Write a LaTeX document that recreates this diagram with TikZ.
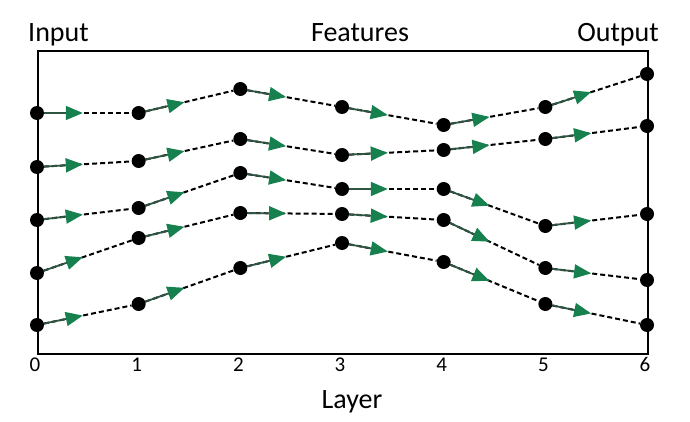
\documentclass[tikz,border=0pt]{standalone}
\usepackage{fontspec}
\setmainfont{Carlito}
\usetikzlibrary{arrows.meta,backgrounds}
\definecolor{flowgreen}{RGB}{22,128,78}
\definecolor{flowline}{RGB}{45,85,65}
\tikzset{
  dot/.style={circle,fill=black,inner sep=0pt,minimum size=14pt},
  dashline/.style={black,line width=2pt,dash pattern=on 5pt off 3pt},
  flow/.style={flowline,line width=1.8pt,-{Triangle[length=17pt,width=14pt,fill=flowgreen,color=flowgreen]}},
  frame/.style={black,line width=2.2pt},
  lbl/.style={inner sep=0pt,font=\fontsize{28}{32}\selectfont},
  num/.style={inner sep=0pt,font=\fontsize{21}{24}\selectfont}
}
\begin{document}
\begin{tikzpicture}[x=1pt,y=-1pt]
\useasboundingbox (0,0) rectangle (690,422);
\node[frame,draw,minimum width=610pt,minimum height=303pt,anchor=north west,inner sep=0pt] (box) at (37,50) {};
\foreach \ys [count=\r] in {
  {113,113,89,107,125,107,74},
  {167,161,139,155,150,139,126},
  {220,208,173,189,189,226,214},
  {273,238,213,214,220,268,280},
  {325,304,268,243,262,304,325}} {
  \foreach \y [count=\c from 0] in \ys {
    \node[dot] (n\r-\c) at ({37+\c*101.67},\y) {};
  }
}
\begin{pgfonlayer}{background}
\foreach \r in {1,...,5} {
  \foreach \c [evaluate=\c as \d using int(\c+1)] in {0,...,5} {
    \draw[dashline] (n\r-\c) -- (n\r-\d);
    \path (n\r-\c.center) -- coordinate[pos=0.45] (t\r-\c) (n\r-\d.center);
    \draw[flow] (n\r-\c.center) -- (t\r-\c);
  }
}
\end{pgfonlayer}
\foreach \c in {0,...,6} {
  \node[num,anchor=base] (d\c) at ({35+\c*101.67},371) {\c};
}
\node[lbl,anchor=base west] (in) at (28,42) {Input};
\node[lbl,anchor=base] (feat) at (360,42) {Features};
\node[lbl,anchor=base east] (out) at (659,42) {Output};
\node[lbl,anchor=base] (layer) at (352,408) {Layer};
\end{tikzpicture}
\end{document}
